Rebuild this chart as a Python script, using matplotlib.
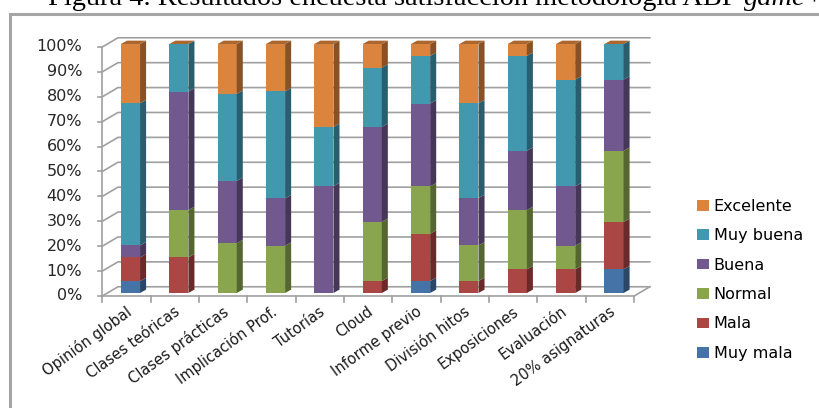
import numpy as np
import matplotlib.pyplot as plt
from matplotlib.patches import Polygon, Rectangle

# datos (% de respuestas por categoría)
categorias = ['Opinión global', 'Clases teóricas', 'Clases prácticas', 'Implicación Prof.',
              'Tutorías', 'Cloud', 'Informe previo', 'División hitos', 'Exposiciones',
              'Evaluación', '20% asignaturas']
series = ['Muy mala', 'Mala', 'Normal', 'Buena', 'Muy buena', 'Excelente']
muy_mala = [4.8, 0, 0, 0, 0, 0, 4.8, 0, 0, 0, 9.5]
mala = [9.5, 14.3, 0, 0, 0, 4.8, 19.0, 4.8, 9.5, 9.5, 19.0]
normal = [0, 19.0, 20.0, 19.0, 0, 23.8, 19.0, 14.3, 23.8, 9.5, 28.6]
buena = [4.8, 47.6, 25.0, 19.0, 42.9, 38.1, 33.3, 19.0, 23.8, 23.8, 28.6]
muy_buena = [57.1, 19.1, 35.0, 43.0, 23.8, 23.8, 19.1, 38.1, 38.1, 42.9, 14.3]
excelente = [23.8, 0, 20.0, 19.0, 33.3, 9.5, 4.8, 23.8, 4.8, 14.3, 0]
yticks = [0, 10, 20, 30, 40, 50, 60, 70, 80, 90, 100]

colores = ['#4572A7', '#AA4643', '#89A54E', '#71588F', '#4198AF', '#DB843D']

W, H = 819, 408
fig = plt.figure(figsize=(W / 100, H / 100), dpi=100)
ax = fig.add_axes([0, 0, 1, 1])
# escala: 48.35 px por categoría, 2.49 px por punto porcentual
x0, sx = 130.5, 48.35
y0, sy = 293.0, 2.49
ax.set_xlim(-x0 / sx, (W - x0) / sx)
ax.set_ylim((y0 - H) / sy, y0 / sy)
ax.axis('off')

plt.rcParams['font.family'] = 'DejaVu Sans'
fs = 11.5
grid_c = '#A0A0A0'

# profundidad del efecto 3D
fx, fy = -0.083, -1.2     # plano frontal
bx, by = 0.24, 2.5        # pared del fondo
ddx, ddy = 0.125, 1.35    # grosor de las barras
n = len(categorias)
xl_f, xr_f = -0.5 + fx, n - 0.5 + fx
xl_b, xr_b = -0.5 + bx, n - 0.5 + bx

# paredes y rejilla
for v in yticks:
    ax.plot([xl_f, xl_b, xr_b], [v + fy, v + by, v + by], color=grid_c, lw=1.2, zorder=1)
    ax.plot([xl_f - 0.08, xl_f], [v + fy, v + fy], color=grid_c, lw=1.2, zorder=1)
    ax.text(-1.003, v + fy, f'{v}%', ha='right', va='center', fontsize=fs, color='#262626')
ax.plot([xl_f, xl_f], [fy, 100 + fy], color=grid_c, lw=1.2, zorder=1)
ax.plot([xl_f, xr_f, xr_b], [fy, fy, by], color=grid_c, lw=1.2, zorder=1)
for k in range(n + 1):
    ax.plot([k - 0.5 + fx] * 2, [fy, fy - 2.6], color=grid_c, lw=1.2, zorder=1)

# barras apiladas
xs = np.arange(n)
bw = 0.395
valores = [muy_mala, mala, normal, buena, muy_buena, excelente]
abajo = np.zeros(n)
handles = []
for nombre, vals, c in zip(series, valores, colores):
    vals = np.array(vals)
    b = ax.bar(xs, vals, bw, bottom=abajo, color=c, label=nombre, zorder=3, lw=0)
    handles.append(b)
    lado = tuple(0.62 * np.array(plt.matplotlib.colors.to_rgb(c)))
    for i in range(n):
        if vals[i] <= 0:
            continue
        xr = xs[i] + bw / 2
        ax.add_patch(Polygon([(xr, abajo[i]), (xr + ddx, abajo[i] + ddy),
                              (xr + ddx, abajo[i] + vals[i] + ddy), (xr, abajo[i] + vals[i])],
                             closed=True, color=lado, lw=0, zorder=3))
    abajo = abajo + vals

tapa = tuple(0.78 * np.array(plt.matplotlib.colors.to_rgb(colores[-1])))
for i in range(n):
    xl = xs[i] - bw / 2
    ax.add_patch(Polygon([(xl, abajo[i]), (xl + bw, abajo[i]), (xl + bw + ddx, abajo[i] + ddy),
                          (xl + ddx, abajo[i] + ddy)], closed=True, color=tapa, lw=0, zorder=3))

# etiquetas del eje x
for i, cat in enumerate(categorias):
    ax.text(i - 0.1, -4.4, cat, rotation=36, rotation_mode='anchor', ha='right', va='top',
            fontsize=10.5, color='#1a1a1a')

# leyenda
ax.legend(handles[::-1], series[::-1], loc='upper left', bbox_to_anchor=(697 / W, 1 - 199 / H),
          bbox_transform=fig.transFigure, frameon=False, fontsize=fs, handlelength=0.75,
          handleheight=0.65, handletextpad=0.3, labelspacing=0.9, borderpad=0, borderaxespad=0)

# marco y título (cortado arriba)
fig.patches.append(Rectangle((9.5 / W, -0.1), 1.2, 1.1 - 13.5 / H, transform=fig.transFigure,
                             fill=False, edgecolor='#A5A5A5', lw=2.2))
t1 = fig.text(48 / W, 1 - 5 / H, 'Figura 4. Resultados encuesta satisfacción metodología ABP ',
              family='Liberation Serif', fontsize=20.4, va='baseline', ha='left')
fig.canvas.draw()
bb = t1.get_window_extent()
fig.text(bb.x1 / W, 1 - 5 / H, 'game+', family='Liberation Serif', style='italic',
         fontsize=20.4, va='baseline', ha='left')

fig.savefig('out.png', dpi=100)
